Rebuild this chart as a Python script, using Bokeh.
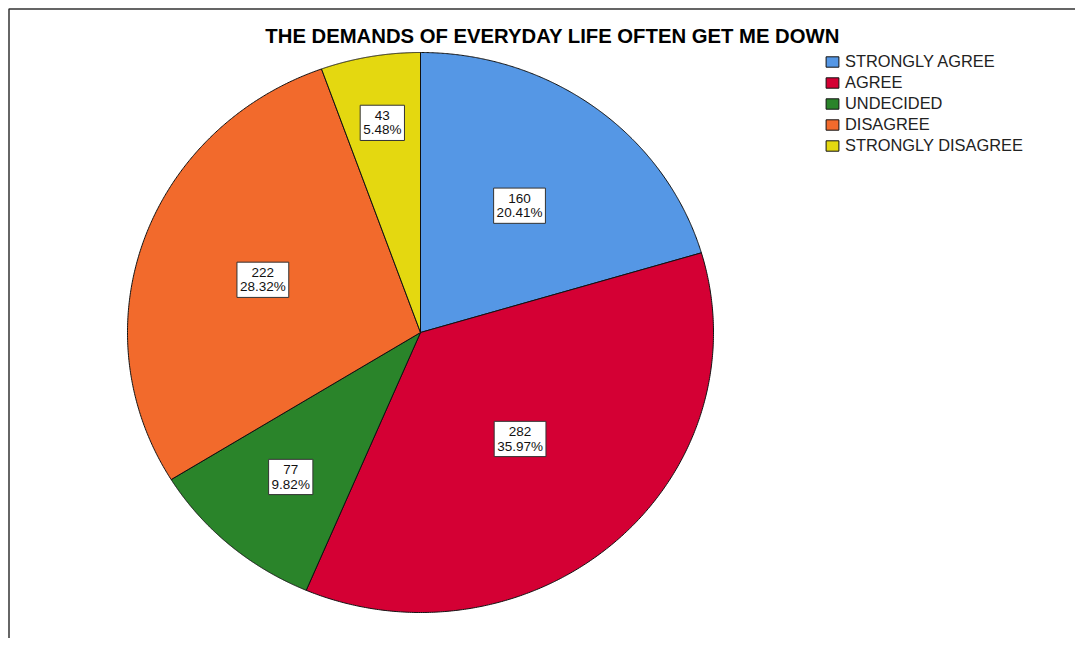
import numpy as np
from bokeh.plotting import figure
from bokeh.models import Range1d, BoxAnnotation, Label, ColumnDataSource
from bokeh.core.properties import value
from bokeh.embed import file_html
from bokeh.resources import INLINE

# ---- data ----
chart_title = "THE DEMANDS OF EVERYDAY LIFE OFTEN GET ME DOWN"
categories = ["STRONGLY AGREE", "AGREE", "UNDECIDED", "DISAGREE", "STRONGLY DISAGREE"]
counts = [160, 282, 77, 222, 43]
percents = ["20.41%", "35.97%", "9.82%", "28.32%", "5.48%"]
colors = ["#5597E5", "#D40034", "#2A842A", "#F26A2C", "#E4D810"]

# ---- layout (picture pixel coordinates) ----
W, H = 1075, 638
cx, cy = 420, 332
rx, ry = 293, 280
label_r = [0.565, 0.51, 0.68, 0.57, 0.76]
FONT = "Liberation Sans"

p = figure(width=W, height=H, output_backend="svg", toolbar_location=None,
           x_range=Range1d(0, W), y_range=Range1d(H, 0),
           min_border=0, outline_line_color=None)
p.axis.visible = False
p.grid.visible = False
p.background_fill_color = "white"
p.border_fill_color = "white"

# frame border (only left & top visible in the window)
p.add_layout(BoxAnnotation(left=8.5, top=8.5, right=W + 20, bottom=H + 20,
                           fill_alpha=0, line_color="#333333", line_alpha=1.0,
                           line_width=1.5))

total = sum(counts)
fr = np.concatenate([[0], np.cumsum(counts)]) / total
for i, cat in enumerate(categories):
    t = np.linspace(fr[i], fr[i + 1], 300) * 2 * np.pi
    xs = np.concatenate([[cx], cx + rx * np.sin(t)])
    ys = np.concatenate([[cy], cy - ry * np.cos(t)])
    p.patch(xs, ys, fill_color=colors[i], line_color="#111111", line_width=1,
            legend_label=cat)

# slice labels
mid = (fr[:-1] + fr[1:]) / 2 * 2 * np.pi
lx = cx + rx * np.array(label_r) * np.sin(mid)
ly = cy - ry * np.array(label_r) * np.cos(mid)
src = ColumnDataSource(dict(x=lx, y=ly,
                            t=[f"{c}\n{pc}" for c, pc in zip(counts, percents)]))
p.text(x="x", y="y", text="t", source=src, text_align="center",
       text_baseline="middle", text_font=value(FONT), text_font_size="13.5px",
       text_color="#111111", text_line_height=0.95,
       background_fill_color="white", border_line_color="#333333",
       border_line_width=1, padding=3)

# title
p.add_layout(Label(x=552, y=35.5, text=chart_title, text_align="center",
                   text_baseline="middle", text_font=FONT, text_font_size="20.3px",
                   text_font_style="bold", text_color="black"))

leg = p.legend[0]
leg.location = (824, 483)
leg.glyph_width = 16
leg.glyph_height = 13
leg.label_height = 18
leg.spacing = 2
leg.label_standoff = 5
leg.padding = 0
leg.margin = 0
leg.border_line_color = None
leg.background_fill_alpha = 0
leg.label_text_font = FONT
leg.label_text_font_size = "16.4px"
leg.label_text_color = "#222222"

open("out.html", "w").write(file_html(p, INLINE))
